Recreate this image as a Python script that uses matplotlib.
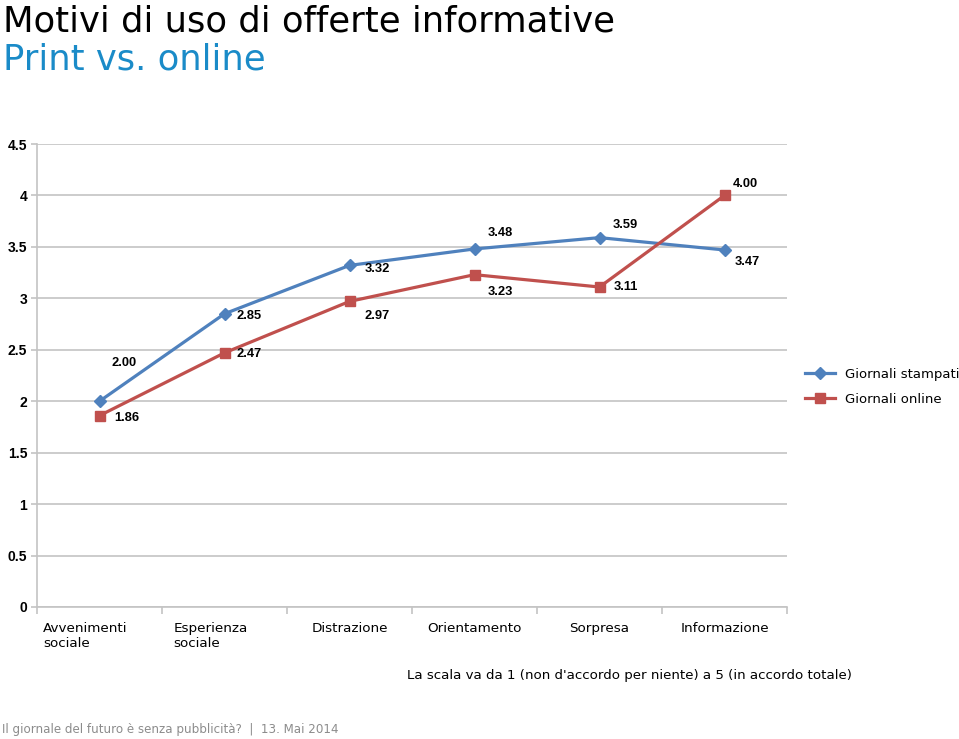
import numpy as np
import matplotlib
matplotlib.use('Agg')
from matplotlib import pyplot as plt
from matplotlib.transforms import ScaledTranslation

categories = ['Avvenimenti\nsociale', 'Esperienza\nsociale', 'Distrazione',
              'Orientamento', 'Sorpresa', 'Informazione']
stampati = [2.00, 2.85, 3.32, 3.48, 3.59, 3.47]
online = [1.86, 2.47, 2.97, 3.23, 3.11, 4.00]
y_ticks = [0, 0.5, 1, 1.5, 2, 2.5, 3, 3.5, 4, 4.5]
y_tick_labels = ['0', '0.5', '1', '1.5', '2', '2.5', '3', '3.5', '4', '4.5']

# label offsets in pixels (dx, dy with y pointing up)
off_stampati = [(25, 38), (25, -2), (28, -4), (26, 16), (26, 13), (23, -12)]
off_online = [(27, -2), (25, -1), (28, -15), (26, -17), (26, 0), (21, 11)]

blue = '#4f81bd'
red = '#c0504d'
grid = '#c4c4c4'

fig = plt.figure(figsize=(9.59, 7.39), dpi=100)
ax = fig.add_axes([37/959, 1-607/739, 750/959, 463/739])

x = np.arange(len(categories))
l1, = ax.plot(x, stampati, color=blue, lw=2.3, marker='D', ms=6,
              label='Giornali stampati')
l2, = ax.plot(x, online, color=red, lw=2.3, marker='s', ms=7.5,
              label='Giornali online')

lab_font = dict(family='Liberation Sans', fontweight='bold', fontsize=9.3)
for vals, offs in ((stampati, off_stampati), (online, off_online)):
    for xi, v, (dx, dy) in zip(x, vals, offs):
        ax.annotate('%.2f' % v, (xi, v), xytext=(dx*0.72, dy*0.72),
                    textcoords='offset points', ha='center', va='center',
                    **lab_font)

ax.set_xlim(-0.5, len(categories)-0.5)
ax.set_ylim(0, 4.5)
ax.set_yticks(y_ticks)
ax.set_yticklabels(y_tick_labels, family='Liberation Sans', fontweight='bold',
                   fontsize=10)
ax.yaxis.grid(True, color=grid, lw=1.2)
ax.set_axisbelow(True)

ax.set_xticks(x)
ax.set_xticklabels(categories, fontsize=9.7, family='DejaVu Sans',
                   multialignment='left')
ax.set_xticks(np.arange(len(categories)+1)-0.5, minor=True)
ax.tick_params(axis='x', which='major', length=0, pad=11)
ax.tick_params(axis='x', which='minor', length=5, color=grid, width=1.2)
ax.tick_params(axis='y', length=4, color=grid, width=1.2, pad=3)

# wrapped labels sit a bit further left
for t in ax.get_xticklabels():
    if '\n' in t.get_text():
        t.set_transform(t.get_transform() + ScaledTranslation(-14/100, 0, fig.dpi_scale_trans))

for s in ('top', 'right'):
    ax.spines[s].set_visible(False)
ax.spines['left'].set_color(grid)
ax.spines['bottom'].set_color(grid)
ax.spines['left'].set_linewidth(1.2)
ax.spines['bottom'].set_linewidth(1.2)

fig.legend(handles=[l1, l2], loc='upper left', bbox_to_anchor=(805/959, 1-368/739),
           frameon=False, fontsize=9.5, handlelength=2.3, handletextpad=0.7,
           labelspacing=0.9, borderaxespad=0, borderpad=0)

fig.text(3/959, 1-31/739, 'Motivi di uso di offerte informative', fontsize=25.5,
         color='black', va='baseline', ha='left')
fig.text(3/959, 1-70/739, 'Print vs. online', fontsize=25.5, color='#1a8bc8',
         va='baseline', ha='left')
fig.text(852/959, 1-676/739,
         "La scala va da 1 (non d'accordo per niente) a 5 (in accordo totale)",
         fontsize=9.6, ha='right', va='center')
fig.text(2/959, 1-730/739,
         'Il giornale del futuro è senza pubblicità?  |  13. Mai 2014',
         fontsize=8.6, color='#8c8c8c', ha='left', va='center')

fig.savefig('out.png', dpi=100)
